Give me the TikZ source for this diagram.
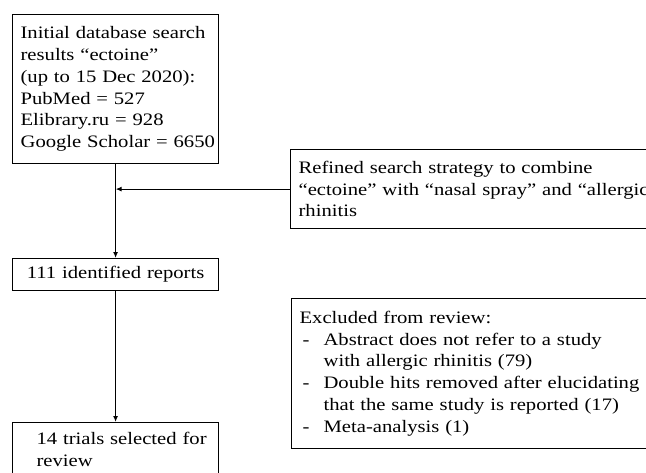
\documentclass[tikz,border=0pt]{standalone}
\usepackage{fontspec}
\setmainfont{Liberation Serif}[FakeStretch=1.18]
\usetikzlibrary{arrows.meta}
\newcommand{\dashitem}{\makebox[24pt][l]{\hspace{3pt}-}}
\newcommand{\contline}{\hspace*{24pt}}
\begin{document}
\begin{tikzpicture}[x=1pt,y=-1pt,
  box/.style={draw, line width=1.2pt, anchor=north west, align=left, inner xsep=8pt, inner ysep=0pt, font=\fontsize{17.5}{21.8}\selectfont},
  conn/.style={line width=1.2pt, -{Latex[length=6pt,width=5pt]}}]
\clip (0,0) rectangle (646,472);
\node[box, text width=190pt, minimum height=149pt] (init) at (12,14)
  {Initial database search\\results “ectoine”\\(up to 15 Dec 2020):\\PubMed = 527\\Elibrary.ru = 928\\\mbox{Google Scholar = 6650}};
\node[box, text width=400pt, minimum height=79pt] (refine) at (290,149)
  {Refined search strategy to combine\\“ectoine” with “nasal spray” and “allergic\\rhinitis};
\node[box, text width=190pt, minimum height=32pt, align=center] (ident) at (12,258)
  {111 identified reports};
\node[box, text width=400pt, minimum height=150pt] (excl) at (291,298)
  {Excluded from review:\\
   \dashitem Abstract does not refer to a study\\
   \contline with allergic rhinitis (79)\\
   \dashitem Double hits removed after elucidating\\
   \contline that the same study is reported (17)\\
   \dashitem Meta-analysis (1)};
\node[box, text width=190pt, minimum height=54pt] (trials) at (12,422)
  {\hspace*{16pt}14 trials selected for\\\hspace*{16pt}review};
\coordinate (join) at (init.south |- refine.west);
\draw[conn] (init.south) -- (ident.north);
\draw[conn] (refine.west) -- (join);
\draw[conn] (ident.south) -- (trials.north);
\end{tikzpicture}
\end{document}
